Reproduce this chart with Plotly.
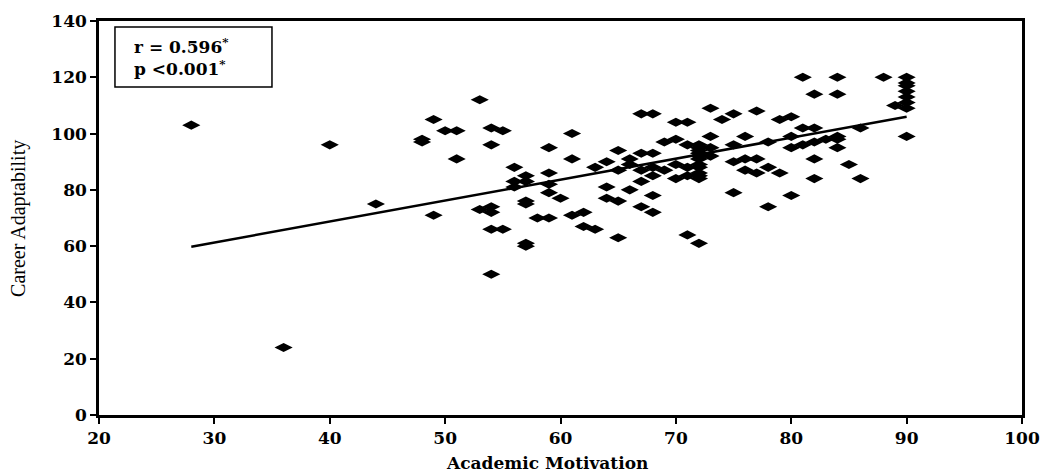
import plotly.graph_objects as go

# Academic Motivation (x) and Career Adaptability (y)
motivation = [28, 36, 40, 44,
              48, 48, 49, 49, 50, 51, 51,
              53, 53, 54, 54, 54, 54, 54, 54, 55, 55,
              56, 56, 56, 57, 57, 57, 57, 57, 57, 58,
              59, 59, 59, 59, 59, 60, 61, 61, 61, 62, 62, 63, 63,
              64, 64, 64, 65, 65, 65, 65, 66, 66, 66,
              67, 67, 67, 67, 67, 68, 68, 68, 68, 68, 68,
              69, 69, 70, 70, 70, 70, 71, 71, 71, 71, 71,
              72, 72, 72, 72, 72, 72, 72, 72, 72, 72, 72, 72,
              73, 73, 73, 73, 74, 75, 75, 75, 75, 76, 76, 76,
              77, 77, 77, 78, 78, 78, 79, 79, 80, 80, 80, 80,
              81, 81, 81, 82, 82, 82, 82, 82, 83, 84, 84, 84, 84, 84,
              85, 86, 86, 88, 89,
              90, 90, 90, 90, 90, 90, 90, 90]
adaptability = [103, 24, 96, 75,
                98, 97, 105, 71, 101, 101, 91,
                112, 73, 102, 96, 74, 72, 66, 50, 101, 66,
                88, 83, 81, 85, 83, 76, 75, 61, 60, 70,
                95, 86, 82, 79, 70, 77, 100, 91, 71, 72, 67, 88, 66,
                90, 81, 77, 94, 87, 76, 63, 91, 89, 80,
                107, 93, 87, 83, 74, 107, 93, 88, 85, 78, 72,
                97, 87, 104, 98, 89, 84, 104, 96, 88, 85, 64,
                96, 95, 94, 93, 92, 91, 89, 88, 86, 85, 84, 61,
                109, 99, 95, 92, 105, 107, 96, 90, 79, 99, 91, 87,
                108, 91, 86, 97, 88, 74, 105, 86, 106, 99, 95, 78,
                120, 102, 96, 114, 102, 97, 91, 84, 98, 120, 114, 99, 98, 95,
                89, 102, 84, 120, 110,
                120, 118, 117, 115, 113, 111, 109, 99]

# Linear trend line end points
trend_x = [28, 90]
trend_y = [59.8, 106.0]

x_ticks = [20, 30, 40, 50, 60, 70, 80, 90, 100]
y_ticks = [0, 20, 40, 60, 80, 100, 120, 140]

x_title = "Academic Motivation"
y_title = "Career Adaptability"
stat_lines = ["r = 0.596<sup>*</sup>", "p &lt;0.001<sup>*</sup>"]

fig = go.Figure()
fig.add_trace(go.Scatter(
    x=motivation, y=adaptability, mode="markers",
    marker=dict(symbol="diamond-wide", size=13, color="black",
                line=dict(width=0)),
    showlegend=False, hoverinfo="x+y"))
fig.add_trace(go.Scatter(
    x=trend_x, y=trend_y, mode="lines",
    line=dict(color="black", width=2.5),
    showlegend=False, hoverinfo="skip"))

tick_font = dict(family="DejaVu Serif", size=17, color="black", weight="bold")

fig.update_layout(
    width=1047, height=473,
    margin=dict(l=99, r=25, t=21, b=58),
    paper_bgcolor="white", plot_bgcolor="white",
    xaxis=dict(range=[20, 100], tickvals=x_ticks,
               ticktext=["<b>%d</b>" % v for v in x_ticks],
               showgrid=False, zeroline=False, showline=True, linecolor="black",
               linewidth=2.5, mirror=True, ticks="outside", ticklen=6, tickwidth=2,
               tickcolor="black", tickfont=tick_font, automargin=False),
    yaxis=dict(range=[0, 140], tickvals=y_ticks,
               ticktext=["<b>%d</b>" % v for v in y_ticks],
               showgrid=False, zeroline=False, showline=True, linecolor="black",
               linewidth=2.5, mirror=True, ticks="outside", ticklen=6, tickwidth=2,
               tickcolor="black", tickfont=tick_font, automargin=False),
)

# axis titles
fig.add_annotation(xref="paper", yref="paper", x=0.485, y=-0.122,
                   xanchor="center", yanchor="middle", showarrow=False,
                   text="<b>%s</b>" % x_title,
                   font=dict(family="DejaVu Serif", size=17, color="black", weight="bold"))
fig.add_annotation(xref="paper", yref="paper", x=-0.0878, y=0.5,
                   xanchor="center", yanchor="middle", showarrow=False, textangle=-90,
                   text=y_title,
                   font=dict(family="Liberation Serif", size=20, color="black"))

# statistics box
fig.add_shape(type="rect", xref="paper", yref="paper",
              x0=0.0173, x1=0.1874, y0=0.8325, y1=0.9848,
              line=dict(color="black", width=1.5), fillcolor="white", layer="below")
fig.add_annotation(xref="paper", yref="paper", x=0.0358, y=0.9086,
                   xanchor="left", yanchor="middle", align="left", showarrow=False,
                   text="<br>".join("<b>%s</b>" % s for s in stat_lines),
                   font=dict(family="DejaVu Serif", size=17, color="black", weight="bold"))

fig.write_html("out.html",
               config={"displayModeBar": False},
               post_script="document.body.style.margin='0';"
                           "document.body.style.overflow='hidden';")
